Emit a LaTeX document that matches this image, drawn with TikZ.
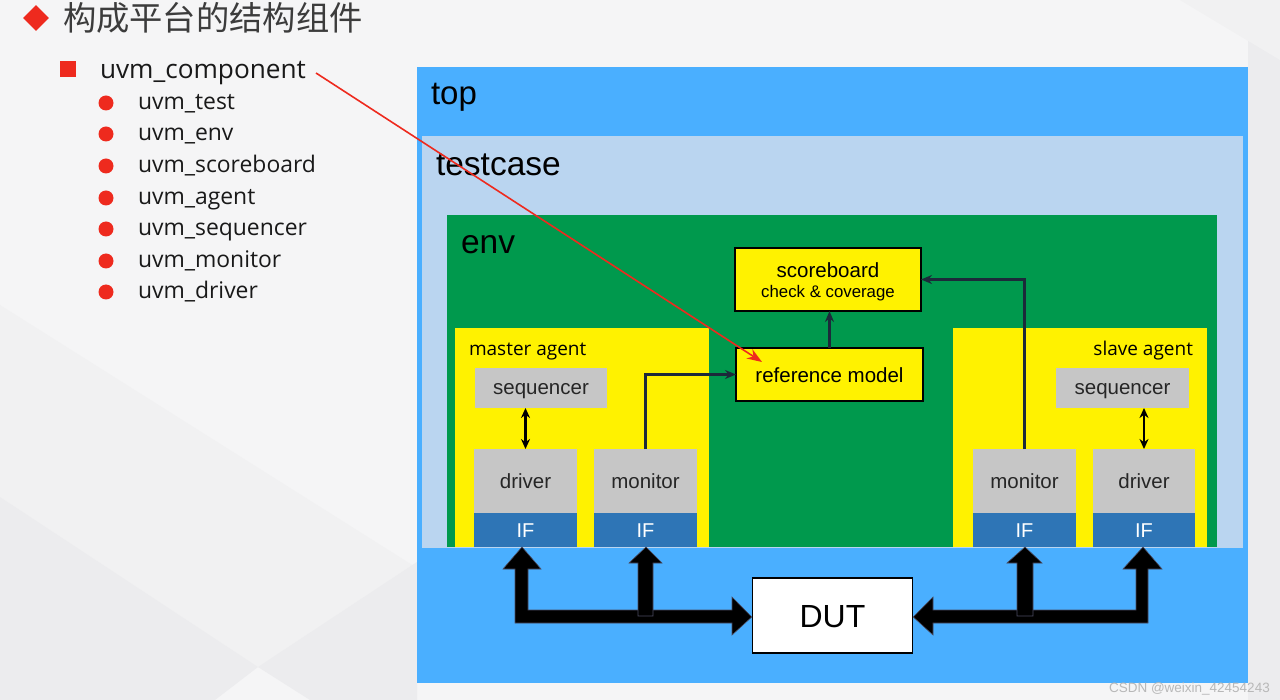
\documentclass[tikz,border=0pt]{standalone}
\usepackage{fontspec}
\setmainfont{Liberation Sans}
\newfontfamily\listfont{Open Sans}
\newfontfamily\cjkfont{Noto Sans CJK SC}
\usetikzlibrary{arrows.meta,shapes.geometric}
\definecolor{bgA}{HTML}{F5F5F6}
\definecolor{bgB}{HTML}{F1F1F2}
\definecolor{bgC}{HTML}{ECECEE}
\definecolor{topblue}{HTML}{4AAFFF}
\definecolor{tcblue}{HTML}{BAD5F0}
\definecolor{envgreen}{HTML}{00994D}
\definecolor{agyellow}{HTML}{FFF200}
\definecolor{compgray}{HTML}{C6C6C6}
\definecolor{ifblue}{HTML}{2E75B6}
\definecolor{linedark}{HTML}{1C2A3A}
\definecolor{bulletred}{HTML}{EE2A1E}
\definecolor{titlegray}{HTML}{3C3C3C}
\definecolor{wmgray}{HTML}{B8B8B8}
\tikzset{
  px/.style={x=1pt,y=-1pt},
  area/.style={rectangle,inner sep=0pt,outer sep=0pt,draw=none,anchor=north west},
  tb/.style={text height=17.5pt,text depth=3.5pt},
  comp/.style={rectangle,inner sep=0pt,outer sep=0pt,fill=compgray,draw=none,
    font=\fontsize{20.5}{24}\selectfont,text=black!85,tb},
  ifbox/.style={rectangle,inner sep=0pt,outer sep=0pt,fill=ifblue,draw=none,
    font=\fontsize{20}{24}\selectfont,text=white,text height=17pt,text depth=2.6pt},
  ybox/.style={rectangle,inner sep=0pt,outer sep=0pt,fill=agyellow,draw=black,line width=1.6pt},
  lbl/.style={inner sep=0pt,outer sep=0pt,anchor=base west},
  conn/.style={draw=linedark,line width=2.2pt,-{Stealth[length=11pt,width=9pt]}},
  dbl/.style={draw=black,line width=2.2pt,{Stealth[length=10pt,width=9pt]}-{Stealth[length=10pt,width=9pt]}},
  bus/.style={fill=black,draw=black!80!blue!40!gray,line width=0.6pt},
  bullet/.style={circle,fill=bulletred,draw=none,minimum size=15pt,inner sep=0pt},
  itemtxt/.style={lbl,font=\listfont\fontsize{22.9}{26}\selectfont,text=black!90},
}
\begin{document}
\begin{tikzpicture}[px]
\useasboundingbox (0,0) rectangle (1280,700);
% background
\fill[bgA] (0,0) rectangle (1280,700);
\fill[bgB] (0,305) -- (417,568) -- (258,667) -- (0,497) -- cycle;
\fill[bgC] (0,497) -- (258,667) -- (215,700) -- (0,700) -- cycle;
\fill[bgC] (258,667) -- (417,562) -- (417,700) -- (310,700) -- cycle;
\fill[bgC] (1248,0) rectangle (1280,700);
\fill[bgB] (1180,0) -- (1280,0) -- (1280,60) -- cycle;

% title and list
\node[diamond,fill=bulletred,minimum width=26pt,minimum height=26pt,inner sep=0pt] (tdia) at (36,18) {};
\node[lbl,font=\cjkfont\fontsize{33.3}{37}\selectfont,text=titlegray] (title) at (63,31) {构成平台的结构组件};
\node[rectangle,fill=bulletred,minimum size=16pt,inner sep=0pt] (csq) at (68,69) {};
\node[lbl,font=\listfont\fontsize{26.2}{30}\selectfont,text=black!90] (comp) at (100,79) {uvm\_component};
\coordinate (redstart) at (316,73);
\foreach \y/\t [count=\i] in {110/uvm\_test,141/uvm\_env,173/uvm\_scoreboard,205/uvm\_agent,236/uvm\_sequencer,268/uvm\_monitor,299/uvm\_driver}{
  \node[bullet] (b\i) at (106,\y-7) {};
  \node[itemtxt] (it\i) at (138,\y) {\t};
}

% containers
\node[area,fill=topblue,minimum width=831pt,minimum height=616pt] (top) at (417,67) {};
\node[area,fill=tcblue,minimum width=821pt,minimum height=412pt] (tc) at (422,136) {};
\node[area,fill=envgreen,minimum width=770pt,minimum height=332pt] (env) at (447,215) {};
\node[area,fill=agyellow,minimum width=254pt,minimum height=219pt] (mag) at (455,328) {};
\node[area,fill=agyellow,minimum width=254pt,minimum height=219pt] (sag) at (953,328) {};
\node[lbl,font=\fontsize{33}{36}\selectfont] (toplbl) at (431,105) {top};
\node[lbl,font=\fontsize{33.5}{36}\selectfont] (tclbl) at (436,176) {testcase};
\node[lbl,font=\fontsize{33.5}{36}\selectfont] (envlbl) at (461,254) {env};
\node[lbl,font=\listfont\fontsize{19}{22}\selectfont] (maglbl) at (469,356) {master agent};
\node[inner sep=0pt,outer sep=0pt,anchor=base east,font=\listfont\fontsize{19}{22}\selectfont] (saglbl) at (1193,356) {slave agent};

% master agent components
\node[comp,minimum width=132pt,minimum height=40pt] (mseq) at (541,388) {sequencer};
\node[comp,minimum width=103pt,minimum height=64pt] (mdrv) at (525.5,481) {driver};
\node[ifbox,minimum width=103pt,minimum height=34pt] (mdif) at (525.5,530) {IF};
\node[comp,minimum width=103pt,minimum height=64pt] (mmon) at (645.5,481) {monitor};
\node[ifbox,minimum width=103pt,minimum height=34pt] (mmif) at (645.5,530) {IF};

% slave agent components
\node[comp,minimum width=133pt,minimum height=40pt] (sseq) at (1122.5,388) {sequencer};
\node[comp,minimum width=103pt,minimum height=64pt] (smon) at (1024.5,481) {monitor};
\node[ifbox,minimum width=103pt,minimum height=34pt] (smif) at (1024.5,530) {IF};
\node[comp,minimum width=102pt,minimum height=64pt] (sdrv) at (1144,481) {driver};
\node[ifbox,minimum width=102pt,minimum height=34pt] (sdif) at (1144,530) {IF};

% scoreboard and reference model
\node[ybox,minimum width=186pt,minimum height=63pt] (sb) at (828,279.5) {};
\node[inner sep=0pt,font=\fontsize{20.5}{24}\selectfont,tb] (sbt1) at (828,271) {scoreboard};
\node[inner sep=0pt,font=\fontsize{16.8}{20}\selectfont,text height=12.3pt,text depth=3.5pt] (sbt2) at (828,293) {check \& coverage};
\node[ybox,minimum width=187pt,minimum height=53pt,font=\fontsize{20.5}{24}\selectfont,text height=18.5pt,text depth=2pt] (ref) at (829.5,374.5) {reference model};

% connectors
\draw[dbl] (mdrv.north |- mseq.south) -- (mdrv.north);
\draw[dbl] (sdrv.north |- sseq.south) -- (sdrv.north);
\draw[conn] (mmon.north) |- (ref.west);
\draw[conn] (ref.north) -- (ref.north |- sb.south);
\draw[conn] (smon.north) |- (sb.east);

% DUT
\node[rectangle,fill=white,draw=black,line width=1.6pt,minimum width=160pt,minimum height=75pt,inner sep=0pt,font=\fontsize{32}{36}\selectfont,text height=27pt,text depth=4pt] (dut) at (832.5,615.5) {DUT};

% thick buses
\draw[bus] (522,547) -- (541,569) -- (528,569) -- (528,610) -- (732,610) -- (732,597)
  -- (dut.west |- 0,617) -- (732,635) -- (732,623) -- (515,623) -- (515,569) -- (503,569) -- cycle;
\draw[bus] (646,547) -- (662,563) -- (653,563) -- (653,616) -- (638,616) -- (638,563) -- (629,563) -- cycle;
\draw[bus] (dut.east |- 0,617) -- (933,597) -- (933,610) -- (1136,610) -- (1136,569) -- (1123,569)
  -- (1143,547) -- (1162,569) -- (1148,569) -- (1148,623) -- (933,623) -- (933,635) -- cycle;
\draw[bus] (1025,547) -- (1042,563) -- (1033,563) -- (1033,616) -- (1017,616) -- (1017,563) -- (1007,563) -- cycle;

% red pointer
\coordinate (redend) at (762,362);
\draw[draw=bulletred,line width=1.6pt,-{Stealth[length=15pt,width=11pt]}] (redstart) -- (redend);

% watermark
\node[inner sep=0pt,anchor=base east,font=\fontsize{13.5}{16}\selectfont,text=wmgray] (wm) at (1270,692) {CSDN @weixin\_42454243};
\end{tikzpicture}
\end{document}
